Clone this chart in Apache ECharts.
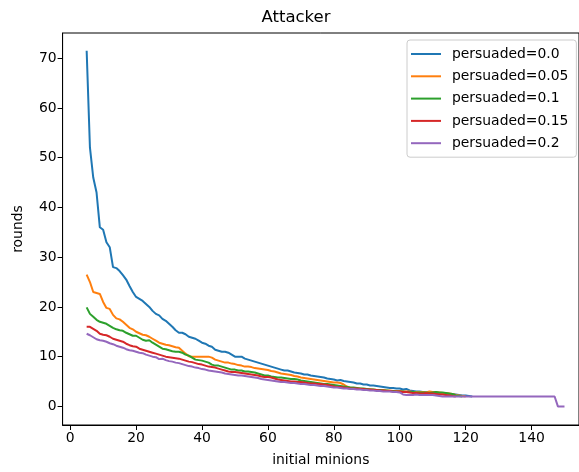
<!DOCTYPE html>
<html>
<head>
<meta charset="utf-8">
<script src="https://cdn.jsdelivr.net/npm/echarts@6/dist/echarts.min.js"></script>
<style>
  html, body { margin: 0; padding: 0; background: #fff; }
  #chart { width: 579px; height: 472px; }
</style>
</head>
<body>
<div id="chart"></div>
<script>
// initial minions run 5..150, one point per value
var firstMinion = 5;

var names = ['persuaded=0.0', 'persuaded=0.05', 'persuaded=0.1', 'persuaded=0.15', 'persuaded=0.2'];
var colors = ['#1f77b4', '#ff7f0e', '#2ca02c', '#d62728', '#9467bd'];

var xTicks = [0, 20, 40, 60, 80, 100, 120, 140];
var yTicks = [0, 10, 20, 30, 40, 50, 60, 70];

// rounds, starting at 5 minions
var p000 = [
  71.5, 52, 46, 43, 36, 35.5, 33, 32, 28, 27.8,
  27.2, 26.4, 25.5, 24.2, 23, 22, 21.6, 21.2, 20.6, 20,
  19.2, 18.6, 18.3, 17.6, 17.2, 16.6, 16, 15.3, 14.8, 14.8,
  14.5, 14, 13.8, 13.6, 13.2, 12.8, 12.6, 12.2, 12, 11.4,
  11.2, 11, 11, 10.8, 10.4, 10, 10, 10, 9.6, 9.4,
  9.2, 9, 8.8, 8.6, 8.4, 8.2, 8, 7.8, 7.6, 7.4,
  7.2, 7.2, 7, 6.8, 6.7, 6.6, 6.4, 6.4, 6.2, 6.1,
  6, 5.9, 5.8, 5.6, 5.5, 5.4, 5.2, 5.3, 5.1, 5,
  4.9, 4.8, 4.6, 4.6, 4.4, 4.4, 4.2, 4.2, 4.1, 4,
  3.9, 3.8, 3.7, 3.7, 3.6, 3.6, 3.4, 3.5, 3.2, 3.1,
  3, 3, 2.9, 2.8, 2.8, 2.8, 2.7, 2.7, 2.6, 2.6,
  2.5, 2.5, 2.4, 2.3, 2.2, 2.2, 2.1, 2
];
var p005 = [
  26.5, 25, 23, 22.8, 22.6, 21, 19.8, 19.6, 18.4, 17.7,
  17.5, 17, 16.4, 15.8, 15.5, 15, 14.7, 14.4, 14.3, 14,
  13.6, 13.2, 12.8, 12.6, 12.4, 12.3, 12.1, 11.9, 11.8, 11.2,
  10.6, 10.1, 10, 10, 10, 10, 10, 10, 9.8, 9.4,
  9.2, 9, 8.8, 8.8, 8.6, 8.5, 8.3, 8.2, 8, 8,
  7.9, 7.7, 7.6, 7.5, 7.4, 7.3, 7.1, 7, 6.8, 6.6,
  6.5, 6.4, 6.3, 6.1, 6, 5.8, 5.7, 5.6, 5.5, 5.4,
  5.3, 5.2, 5.1, 5, 4.9, 4.8, 4.8, 4.7, 4.4, 4,
  3.7, 3.6, 3.6, 3.6, 3.5, 3.5, 3.4, 3.4, 3.3, 3.3,
  3.3, 3.2, 3.2, 3.1, 3.1, 3.1, 3, 3, 3, 2.9,
  2.9, 2.9, 2.9, 2.8, 3, 2.9, 2.9, 2.8, 2.7, 2.7,
  2.6, 2.5, 2.3, 2.2, 2.1, 2
];
var p010 = [
  19.9, 18.6, 18, 17.4, 17, 16.8, 16.6, 16.2, 15.8, 15.5,
  15.3, 15.2, 14.8, 14.5, 14.2, 14.2, 13.8, 13.4, 13.2, 13.3,
  12.8, 12.4, 12, 11.6, 11.5, 11.3, 11.1, 11, 11, 10.8,
  10.4, 10.2, 9.8, 9.4, 9.3, 9.2, 9, 8.8, 8.4, 8.2,
  8.2, 8, 7.8, 7.6, 7.4, 7.4, 7.2, 7.2, 7, 7,
  6.9, 6.8, 6.6, 6.4, 6.2, 6.2, 6, 5.9, 5.8, 5.8,
  5.7, 5.6, 5.5, 5.5, 5.4, 5.2, 5.1, 5, 4.9, 4.8,
  4.7, 4.6, 4.5, 4.5, 4.4, 4.3, 4.2, 4.1, 4, 3.9,
  3.8, 3.8, 3.7, 3.6, 3.6, 3.5, 3.4, 3.4, 3.3, 3.3,
  3.2, 3.2, 3.1, 3.1, 3, 3, 3, 2.9, 2.9, 2.9,
  2.8, 2.8, 2.8, 2.8, 2.7, 2.8, 2.9, 2.8, 2.8, 2.7,
  2.6, 2.5, 2.2, 2.1, 2
];
var p015 = [
  16, 16, 15.6, 15.2, 14.6, 14.4, 14.3, 14, 13.6, 13.4,
  13.2, 13, 12.6, 12.3, 12.1, 12, 11.6, 11.4, 11.2, 11,
  10.8, 10.6, 10.4, 10.2, 10, 9.9, 9.8, 9.7, 9.6, 9.4,
  9.2, 9, 8.9, 8.7, 8.5, 8.4, 8.2, 8, 7.9, 7.8,
  7.6, 7.4, 7.2, 7, 6.9, 6.9, 6.8, 6.7, 6.6, 6.5,
  6.4, 6.3, 6.2, 6, 5.9, 5.9, 5.8, 5.6, 5.4, 5.3,
  5.2, 5.1, 5, 5, 4.9, 4.9, 4.8, 4.7, 4.6, 4.6,
  4.5, 4.5, 4.4, 4.3, 4.2, 4, 3.9, 3.9, 3.8, 3.7,
  3.6, 3.6, 3.6, 3.5, 3.5, 3.4, 3.4, 3.3, 3.3, 3.2,
  3.2, 3.1, 3.1, 3, 3, 3, 2.9, 2.9, 2.8, 2.7,
  2.7, 2.6, 2.6, 2.7, 2.6, 2.6, 2.5, 2.4, 2.4, 2.3,
  2.2, 2.1, 2
];
var p020 = [
  14.6, 14.3, 13.9, 13.5, 13.3, 13.2, 13, 12.7, 12.5, 12.2,
  12, 11.8, 11.5, 11.3, 11.2, 11, 10.8, 10.7, 10.4, 10.2,
  10, 9.9, 9.5, 9.6, 9.3, 9.1, 9, 8.8, 8.7, 8.5,
  8.3, 8.1, 8, 7.8, 7.7, 7.5, 7.4, 7.2, 7.1, 7,
  6.9, 6.8, 6.6, 6.5, 6.4, 6.3, 6.2, 6.2, 6.1, 6,
  5.9, 5.8, 5.7, 5.5, 5.4, 5.3, 5.2, 5.1, 5, 4.9,
  4.9, 4.8, 4.7, 4.7, 4.6, 4.5, 4.5, 4.4, 4.3, 4.3,
  4.2, 4.1, 4.1, 4, 3.9, 3.8, 3.8, 3.7, 3.6, 3.6,
  3.5, 3.5, 3.4, 3.4, 3.3, 3.3, 3.2, 3.2, 3.1, 3.1,
  3, 3, 3, 2.9, 2.9, 2.8, 2.4, 2.3, 2.3, 2.3,
  2.4, 2.3, 2.3, 2.3, 2.3, 2.3, 2.2, 2.1, 2, 2,
  2, 2, 2, 2, 2, 2, 2, 2, 2, 2,
  2, 2, 2, 2, 2, 2, 2, 2, 2, 2,
  2, 2, 2, 2, 2, 2, 2, 2, 2, 2,
  2, 2, 2, 0, 0, 0
];

var seriesValues = [p000, p005, p010, p015, p020];

function pairs(vals) {
  return vals.map(function (v, i) { return [firstMinion + i, v]; });
}

var chart = echarts.init(document.getElementById('chart'), null, { renderer: 'canvas' });

var font = 'DejaVu Sans';

var option = {
  animation: false,
  backgroundColor: '#fff',
  color: colors,
  title: {
    text: 'Attacker',
    left: 291,
    textAlign: 'center',
    top: 4,
    textStyle: { fontFamily: font, fontSize: 16.5, fontWeight: 'normal', color: '#000' }
  },
  grid: {
    left: 62.6,
    top: 33,
    width: 517.4,
    height: 394,
    show: true,
    borderColor: '#000',
    borderWidth: 1,
    backgroundColor: 'transparent'
  },
  legend: {
    orient: 'vertical',
    left: 407,
    top: 40,
    width: 168,
    padding: [7, 8, 7, 4],
    icon: 'rect',
    itemWidth: 30,
    itemHeight: 2,
    itemGap: 8.3,
    backgroundColor: 'rgba(255,255,255,0.8)',
    borderColor: '#cccccc',
    borderWidth: 1,
    borderRadius: 3,
    textStyle: { fontFamily: font, fontSize: 13.9, lineHeight: 14, color: '#000', padding: [0, 0, 0, 6] },
    data: names
  },
  xAxis: {
    type: 'value',
    min: -2.3,
    max: 154.4,
    name: 'initial minions',
    nameLocation: 'middle',
    nameGap: 28,
    nameTextStyle: { fontFamily: font, fontSize: 13.9, color: '#000' },
    splitLine: { show: false },
    axisLine: { show: true, onZero: false, lineStyle: { color: '#000', width: 1 } },
    axisTick: { show: true, length: 5, customValues: xTicks, lineStyle: { color: '#000' } },
    axisLabel: { customValues: xTicks, margin: 6, fontFamily: font, fontSize: 13.9, color: '#000' }
  },
  yAxis: {
    type: 'value',
    min: -3.74,
    max: 75.06,
    name: 'rounds',
    nameLocation: 'middle',
    nameGap: 37,
    nameTextStyle: { fontFamily: font, fontSize: 13.9, color: '#000' },
    splitLine: { show: false },
    axisLine: { show: true, onZero: false, lineStyle: { color: '#000', width: 1 } },
    axisTick: { show: true, length: 5, customValues: yTicks, lineStyle: { color: '#000' } },
    axisLabel: { customValues: yTicks, margin: 6, fontFamily: font, fontSize: 13.9, color: '#000' }
  },
  series: seriesValues.map(function (vals, k) {
    return {
      name: names[k],
      type: 'line',
      symbol: 'none',
      data: pairs(vals),
      lineStyle: { width: 2, color: colors[k] },
      itemStyle: { color: colors[k] },
      z: 2 + k
    };
  })
};

chart.setOption(option);
</script>
</body>
</html>
